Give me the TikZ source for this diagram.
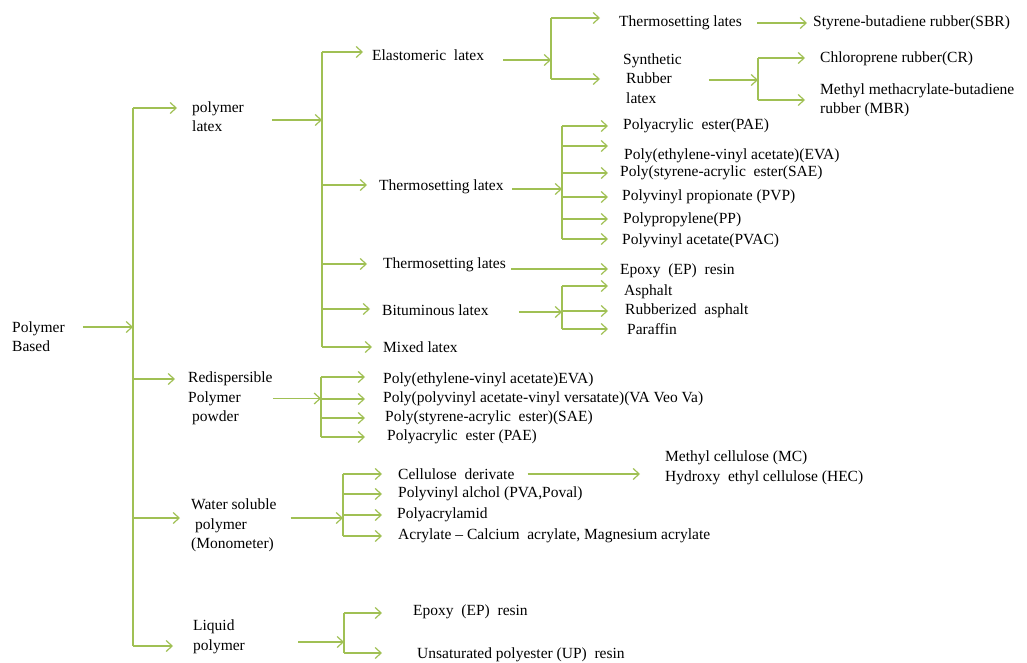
\documentclass[tikz,border=0pt]{standalone}
\usepackage{fontspec}
\setmainfont{Liberation Serif}
\usetikzlibrary{arrows.meta,calc}
\definecolor{lg}{RGB}{160,192,84}
% branch: #1 vertical coordinate, #2 target node, #3 gap before node, #4 vertical offset (up)
\newcommand{\brr}[4]{\path ([xshift=-#3pt,yshift=#4pt]#2.west) coordinate (brtmp); \draw[arr] (#1 |- brtmp) -- (brtmp);}
% feed: #1 source node, #2 gap after node, #3 vertical offset (up), #4 vertical coordinate
\newcommand{\feed}[4]{\path ([xshift=#2pt,yshift=#3pt]#1.east) coordinate (fdtmp); \draw[arr] (fdtmp) -- (#4 |- fdtmp);}
\begin{document}
\begin{tikzpicture}[x=1pt,y=-1pt,
  ln/.style={draw=lg,line width=1.2pt},
  arr/.style={ln,-{Straight Barb[length=6pt,width=11pt,line width=1.2pt]}},
  tx/.style={anchor=west,inner sep=0pt,align=left,font=\fontsize{15.5}{19.5}\selectfont}]
\useasboundingbox (0,0) rectangle (1027,663);

% level 0 / 1
\node[tx] (pb) at (12,336.5) {Polymer\\Based};
\node[tx] (pl) at (192,116.5) {polymer\\latex};
\node[tx] (rp) at (188,398.5) {Redispersible\\Polymer\\\hspace{4pt}powder};
\node[tx] (ws) at (191,525.5) {Water soluble\\\hspace{4pt}polymer\\(Monometer)};
\node[tx] (lp) at (193,637) {Liquid\\polymer};

% level 2 (polymer latex)
\node[tx] (el) at (372,55) {Elastomeric\ \ latex};
\node[tx] (tl) at (379,187) {Thermosetting latex};
\node[tx] (tlb) at (383,265) {Thermosetting lates};
\node[tx] (bl) at (382,310) {Bituminous latex};
\node[tx] (ml) at (383,347) {Mixed latex};

% level 3
\node[tx] (tla) at (619,23) {Thermosetting lates};
\node[tx] (srl) at (623,78.5) {Synthetic\\\hspace{3pt}Rubber\\\hspace{3pt}latex};
\node[tx] (sbr) at (813,23) {Styrene-butadiene rubber(SBR)};
\node[tx] (cr) at (820,59) {Chloroprene rubber(CR)};
\node[tx] (mbr) at (820,100.5) {Methyl methacrylate-butadiene\\rubber (MBR)};

\node[tx] (pae1) at (623,126) {Polyacrylic\ \ ester(PAE)};
\node[tx] (eva1) at (624,156) {Poly(ethylene-vinyl acetate)(EVA)};
\node[tx] (sae1) at (620,173) {Poly(styrene-acrylic\ \ ester(SAE)};
\node[tx] (pvp) at (622,197) {Polyvinyl propionate (PVP)};
\node[tx] (pp) at (623,220) {Polypropylene(PP)};
\node[tx] (pvac) at (622,241) {Polyvinyl acetate(PVAC)};

\node[tx] (ep1) at (620,271) {Epoxy\ \ (EP)\ \ resin};
\node[tx] (asp) at (624,292) {Asphalt};
\node[tx] (rasp) at (625,311) {Rubberized\ \ asphalt};
\node[tx] (par) at (627,329) {Paraffin};

\node[tx] (eva2) at (383,380) {Poly(ethylene-vinyl acetate)EVA)};
\node[tx] (vav) at (383,399) {Poly(polyvinyl acetate-vinyl versatate)(VA\ Veo\ Va)};
\node[tx] (sae2) at (385,418) {Poly(styrene-acrylic\ \ ester)(SAE)};
\node[tx] (pae2) at (387,437) {Polyacrylic\ \ ester (PAE)};

\node[tx] (cd) at (398,474) {Cellulose\ \ derivate};
\node[tx] (pva) at (398,494) {Polyvinyl alchol (PVA,Poval)};
\node[tx] (pam) at (397,515) {Polyacrylamid};
\node[tx] (acr) at (398,536) {Acrylate – Calcium\ \ acrylate, Magnesium acrylate};
\node[tx] (mc) at (665,468) {Methyl cellulose (MC)\\Hydroxy\ \ ethyl cellulose (HEC)};

\node[tx] (ep2) at (413,612) {Epoxy\ \ (EP)\ \ resin};
\node[tx] (up) at (417,655) {Unsaturated polyester (UP)\ \ resin};

% vertical bus coordinates
\coordinate (tr) at (133,0);
\coordinate (v1) at (322,0);
\coordinate (v2) at (551,0);
\coordinate (v3) at (758,0);
\coordinate (v4) at (562,0);
\coordinate (v5) at (562,0);
\coordinate (v6) at (321,0);
\coordinate (v7) at (343,0);
\coordinate (v8) at (344,0);

% vertical bus lines
\draw[ln] (133,108) -- (133,646);
\draw[ln] (322,52) -- (322,347);
\draw[ln] (551,18) -- (551,79);
\draw[ln] (758,58) -- (758,100);
\draw[ln] (562,126) -- (562,239);
\draw[ln] (562,286) -- (562,329);
\draw[ln] (321,377) -- (321,437);
\draw[ln] (343,474) -- (343,536);
\draw[ln] (344,613) -- (344,653);

% feeding arrows
\feed{pb}{18}{9.5}{tr}
\feed{pl}{28}{-3.5}{v1}
\feed{rp}{0}{0}{v6}
\feed{ws}{14}{7.5}{v7}
\feed{lp}{53}{-5}{v8}
\feed{el}{19}{-5}{v2}
\feed{srl}{27}{-1.5}{v3}
\feed{tl}{8}{-2}{v4}
\feed{bl}{30}{-2}{v5}

% direct arrows
\draw[arr] ([xshift=15pt]tla.east) -- ([xshift=-6pt]sbr.west);
\draw[arr] ([xshift=5pt,yshift=-4pt]tlb.east) -- ([xshift=-12pt,yshift=2pt]ep1.west);
\draw[arr] ([xshift=13pt]cd.east) -- ([xshift=-25pt,yshift=-6pt]mc.west);

% branches
\brr{tr}{pl}{15}{8.5}
\brr{tr}{rp}{13}{19.5}
\brr{tr}{ws}{11}{7.5}
\brr{tr}{lp}{20}{-9}

\brr{v1}{el}{9}{3}
\brr{v1}{tl}{12}{2}
\brr{v1}{tlb}{16}{1}
\brr{v1}{bl}{12}{1}
\brr{v1}{ml}{11}{0}

\brr{v2}{tla}{19}{5}
\brr{v2}{srl}{23}{-0.5}

\brr{v3}{cr}{15}{1}
\brr{v3}{mbr}{15}{0.5}

\brr{v4}{pae1}{15}{0}
\brr{v4}{eva1}{16}{10}
\brr{v4}{sae1}{12}{0}
\brr{v4}{pvp}{14}{0}
\brr{v4}{pp}{15}{1}
\brr{v4}{pvac}{14}{2}

\brr{v5}{asp}{16}{6}
\brr{v5}{rasp}{17}{0}
\brr{v5}{par}{19}{0}

\brr{v6}{eva2}{18}{3}
\brr{v6}{vav}{18}{0}
\brr{v6}{sae2}{20}{0}
\brr{v6}{pae2}{22}{0}

\brr{v7}{cd}{16}{0}
\brr{v7}{pva}{16}{0}
\brr{v7}{pam}{15}{0}
\brr{v7}{acr}{16}{0}

\brr{v8}{ep2}{31}{-1}
\brr{v8}{up}{35}{2}
\end{tikzpicture}
\end{document}
